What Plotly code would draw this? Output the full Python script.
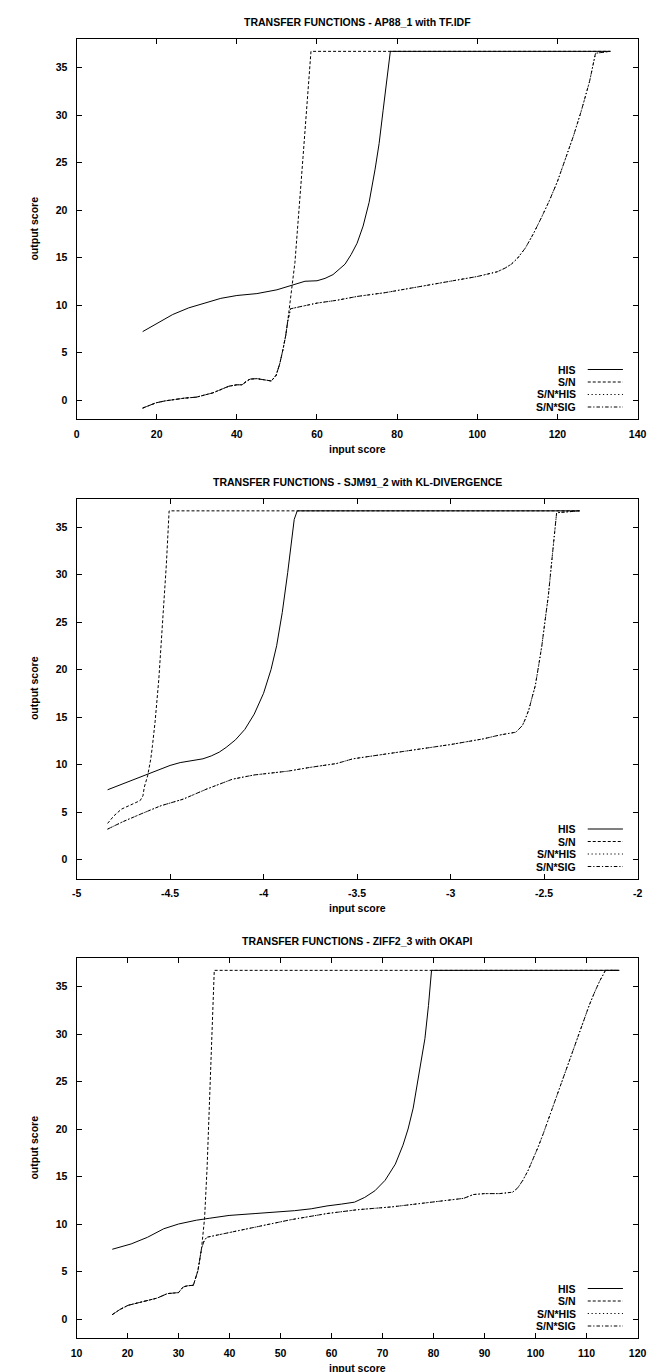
import plotly.graph_objects as go

W, H = 664, 1372

# ---------------- text ----------------
TITLES = [
    "TRANSFER FUNCTIONS - AP88_1 with TF.IDF",
    "TRANSFER FUNCTIONS - SJM91_2 with KL-DIVERGENCE",
    "TRANSFER FUNCTIONS - ZIFF2_3 with OKAPI",
]
SERIES = ["HIS", "S/N", "S/N*HIS", "S/N*SIG"]
X_LABEL = "input score"
Y_LABEL = "output score"

# ---------------- ticks ----------------
Y_TICKS = [0, 5, 10, 15, 20, 25, 30, 35]
Y_TICKTEXT = ["0", "5", "10", "15", "20", "25", "30", "35"]
Y_RANGE = [-2, 38]

P1_X_TICKS = [0, 20, 40, 60, 80, 100, 120, 140]
P1_X_TICKTEXT = ["0", "20", "40", "60", "80", "100", "120", "140"]
P1_X_RANGE = [0, 140]

P2_X_TICKS = [-5, -4.5, -4, -3.5, -3, -2.5, -2]
P2_X_TICKTEXT = ["-5", "-4.5", "-4", "-3.5", "-3", "-2.5", "-2"]
P2_X_RANGE = [-5, -2]

P3_X_TICKS = [10, 20, 30, 40, 50, 60, 70, 80, 90, 100, 110, 120]
P3_X_TICKTEXT = ["10", "20", "30", "40", "50", "60", "70", "80", "90", "100", "110", "120"]
P3_X_RANGE = [10, 120]

# ---------------- panel 1 data (AP88_1, TF.IDF) ----------------
P1_HIS_X = [16.5, 20, 24, 28, 32, 36, 40, 45, 50, 53, 55, 57, 60, 62, 64, 65.5, 67, 68.5, 70, 71.5, 73, 74.5,
            75.5, 76.5, 77.5, 78.3, 133.2]
P1_HIS_Y = [7.2, 8.0, 9.0, 9.7, 10.2, 10.7, 11.0, 11.2, 11.6, 12.0, 12.3, 12.5, 12.55, 12.8, 13.2, 13.7, 14.3, 15.3,
            16.5, 18.3, 20.8, 24.3, 27.0, 30.5, 33.8, 36.7, 36.7]

P1_SN_X = [16.5, 18, 19.8, 22, 24.2, 27, 29.9, 32, 34, 36, 38, 40, 41.3, 42.5, 43.3, 45, 47, 48.6, 49.8, 50.7,
           51.5, 52.2, 52.7, 53.5, 54.5, 56.5, 58.5, 133.2]
P1_SN_Y = [-0.85, -0.6, -0.3, -0.1, 0.05, 0.2, 0.3, 0.5, 0.75, 1.1, 1.45, 1.6, 1.6, 2.0, 2.2, 2.25, 2.15, 2.0, 2.6, 3.8,
           5.3, 6.8, 8.3, 10.8, 14.5, 25.5, 36.7, 36.7]

P1_SNSIG_X = [16.5, 18, 19.8, 22, 24.2, 27, 29.9, 32, 34, 36, 38, 40, 41.3, 42.5, 43.3, 45, 47, 48.6, 49.8, 50.7,
              51.5, 52.2, 52.7, 53.4, 55, 60, 65, 70, 77, 85, 93.3, 100, 105, 107, 108.5, 110, 112, 114, 116,
              118, 120, 122, 124, 126, 128, 129.5, 133.2]
P1_SNSIG_Y = [-0.85, -0.6, -0.3, -0.1, 0.05, 0.2, 0.3, 0.5, 0.75, 1.1, 1.45, 1.6, 1.6, 2.0, 2.2, 2.25, 2.15, 2.0, 2.6, 3.8,
              5.3, 6.8, 8.3, 9.6, 9.75, 10.2, 10.5, 10.9, 11.3, 11.9, 12.5, 13.0, 13.5, 13.9, 14.3, 14.9, 16.0, 17.5,
              19.2, 21.0, 23.0, 25.3, 27.8, 30.5, 33.5, 36.5, 36.7]
P1_SNHIS_X = list(P1_SNSIG_X)
P1_SNHIS_Y = list(P1_SNSIG_Y)

# ---------------- panel 2 data (SJM91_2, KL-DIVERGENCE) ----------------
P2_HIS_X = [-4.834, -4.75, -4.65, -4.603, -4.55, -4.5, -4.446, -4.38, -4.324, -4.28, -4.237, -4.2, -4.15, -4.1,
            -4.05, -4.0, -3.96, -3.93, -3.9, -3.871, -3.85, -3.836, -3.82, -2.31]
P2_HIS_Y = [7.34, 8.0, 8.75, 9.1, 9.55, 9.9, 10.2, 10.45, 10.6, 10.9, 11.3, 11.8, 12.6, 13.7,
            15.3, 17.5, 20.0, 22.5, 26.0, 30.2, 33.5, 35.8, 36.7, 36.7]

P2_SN_X = [-4.834, -4.8, -4.76, -4.707, -4.66, -4.645, -4.638, -4.62, -4.603, -4.594, -4.58, -4.56, -4.54, -4.52,
           -4.505, -2.31]
P2_SN_Y = [3.8, 4.6, 5.3, 5.8, 6.2, 6.7, 7.6, 8.8, 10.6, 12.0, 14.5, 19.0, 25.0, 31.0, 36.7, 36.7]

P2_SNSIG_X = [-4.834, -4.75, -4.655, -4.55, -4.43, -4.306, -4.167, -4.05, -3.96, -3.87, -3.75, -3.61, -3.522, -3.35,
              -3.174, -3.0, -2.825, -2.738, -2.651, -2.616, -2.6, -2.581, -2.565, -2.547, -2.53, -2.512, -2.495,
              -2.477, -2.464, -2.451, -2.44, -2.433, -2.31]
P2_SNSIG_Y = [3.2, 4.0, 4.8, 5.65, 6.35, 7.4, 8.45, 8.9, 9.1, 9.3, 9.7, 10.1, 10.6, 11.1,
              11.6, 12.1, 12.7, 13.1, 13.4, 14.1, 14.8, 15.8, 17.0, 18.3, 20.3, 22.5, 25.1,
              27.8, 30.4, 33.0, 35.3, 36.5, 36.7]
P2_SNHIS_X = list(P2_SNSIG_X)
P2_SNHIS_Y = list(P2_SNSIG_Y)

# ---------------- panel 3 data (ZIFF2_3, OKAPI) ----------------
P3_HIS_X = [17, 20.7, 23.9, 27.1, 30, 33.5, 36, 39.9, 45, 49.5, 52.7, 56, 59.1, 62, 64.5, 66.5, 68.5, 70.5,
            72.5, 74, 75, 76, 76.7, 77.5, 78.3, 79, 79.6, 116.4]
P3_HIS_Y = [7.34, 7.9, 8.6, 9.5, 10.0, 10.4, 10.6, 10.9, 11.1, 11.25, 11.4, 11.6, 11.9, 12.1, 12.3, 12.8, 13.5, 14.6,
            16.3, 18.3, 20.0, 22.2, 24.5, 27.0, 29.5, 33.0, 36.7, 36.7]

P3_SN_X = [17, 18.5, 20.1, 22.6, 25.8, 27.8, 29.3, 30, 30.9, 31.8, 32.9, 33.3, 33.8, 34.5, 35.1, 35.6, 36.1, 36.6,
           37.0, 116.4]
P3_SN_Y = [0.46, 1.0, 1.44, 1.8, 2.2, 2.67, 2.72, 2.78, 3.37, 3.5, 3.55, 4.2, 5.1, 7.4, 10.6, 16.0, 23.0, 30.0,
           36.7, 36.7]

P3_SNSIG_X = [17, 18.5, 20.1, 22.6, 25.8, 27.8, 29.3, 30, 30.9, 31.8, 32.9, 33.3, 33.8, 34.5, 35.0, 35.5,
              40, 46.3, 52, 59.1, 65, 71.8, 78, 82, 85.9, 87.8, 90, 93, 95.5, 96.5, 97.5, 98.5, 99.5, 100.5,
              101.5, 102.5, 103.5, 104.5, 105.5, 106.5, 107.5, 108.5, 109.5, 110.5, 111.5, 112.5, 113.7, 116.4]
P3_SNSIG_Y = [0.46, 1.0, 1.44, 1.8, 2.2, 2.67, 2.72, 2.78, 3.37, 3.5, 3.55, 4.2, 5.1, 7.4, 8.2, 8.6,
              9.1, 9.85, 10.45, 11.1, 11.5, 11.8, 12.2, 12.45, 12.7, 13.1, 13.2, 13.2, 13.35, 13.8, 14.6, 15.6, 16.8,
              18.1, 19.5, 21.0, 22.5, 24.0, 25.6, 27.1, 28.6, 30.1, 31.6, 33.0, 34.3, 35.5, 36.7, 36.7]
P3_SNHIS_X = list(P3_SNSIG_X)
P3_SNHIS_Y = list(P3_SNSIG_Y)

PANELS = [
    dict(title=TITLES[0], xr=P1_X_RANGE, xt=P1_X_TICKS, xtt=P1_X_TICKTEXT,
         data=[(P1_HIS_X, P1_HIS_Y), (P1_SN_X, P1_SN_Y), (P1_SNHIS_X, P1_SNHIS_Y), (P1_SNSIG_X, P1_SNSIG_Y)]),
    dict(title=TITLES[1], xr=P2_X_RANGE, xt=P2_X_TICKS, xtt=P2_X_TICKTEXT,
         data=[(P2_HIS_X, P2_HIS_Y), (P2_SN_X, P2_SN_Y), (P2_SNHIS_X, P2_SNHIS_Y), (P2_SNSIG_X, P2_SNSIG_Y)]),
    dict(title=TITLES[2], xr=P3_X_RANGE, xt=P3_X_TICKS, xtt=P3_X_TICKTEXT,
         data=[(P3_HIS_X, P3_HIS_Y), (P3_SN_X, P3_SN_Y), (P3_SNHIS_X, P3_SNHIS_Y), (P3_SNSIG_X, P3_SNSIG_Y)]),
]

# ---------------- styles ----------------
FONT = "Liberation Sans, Arial, Helvetica, sans-serif"
DASHES = ["solid", "3px,2px", "1.2px,2.6px", "3.5px,2px,1.2px,2px"]
LEFT, RIGHT = 64, 638
TOP0, PITCH, PH = 31, 459.5, 380

fig = go.Figure()
annotations = []
shapes = []
layout_axes = {}


def px_x(p):
    return p / W


def px_y(p):
    return 1 - p / H


for i, pan in enumerate(PANELS):
    n = i + 1
    xa = "x" if n == 1 else f"x{n}"
    ya = "y" if n == 1 else f"y{n}"
    top = TOP0 + PITCH * i
    bottom = top + PH
    for k, (xs, ys) in enumerate(pan["data"]):
        fig.add_trace(go.Scatter(
            x=xs, y=ys, mode="lines", name=SERIES[k], showlegend=False,
            line=dict(color="black", width=1, dash=DASHES[k]),
            xaxis=xa, yaxis=ya, hoverinfo="skip",
        ))
    common = dict(showline=True, mirror="ticks", linecolor="black", linewidth=1,
                  ticks="inside", ticklen=5, tickwidth=1, tickcolor="black",
                  showgrid=False, zeroline=False,
                  tickfont=dict(family=FONT, size=10.5, color="black", weight="bold"))
    layout_axes["xaxis" if n == 1 else f"xaxis{n}"] = dict(
        common, domain=[px_x(LEFT), px_x(RIGHT)], range=pan["xr"],
        tickmode="array", tickvals=pan["xt"], ticktext=pan["xtt"],
        anchor=ya, ticklabelstandoff=5)
    layout_axes["yaxis" if n == 1 else f"yaxis{n}"] = dict(
        common, domain=[px_y(bottom), px_y(top)], range=Y_RANGE,
        tickmode="array", tickvals=Y_TICKS, ticktext=Y_TICKTEXT,
        anchor=xa, ticklabelstandoff=6)

    annotations.append(dict(text=pan["title"], x=px_x((LEFT + RIGHT) / 2), y=px_y(top - 17),
                            xref="paper", yref="paper", showarrow=False, xanchor="center", yanchor="middle",
                            font=dict(family=FONT, size=10.5, color="black", weight="bold")))
    annotations.append(dict(text=X_LABEL, x=px_x((LEFT + RIGHT) / 2), y=px_y(bottom + 30),
                            xref="paper", yref="paper", showarrow=False, xanchor="center", yanchor="middle",
                            font=dict(family=FONT, size=10.5, color="black", weight="bold")))
    annotations.append(dict(text=Y_LABEL, x=px_x(20), y=px_y((top + bottom) / 2), textangle=-90,
                            xref="paper", yref="paper", showarrow=False, xanchor="center", yanchor="middle",
                            font=dict(family=FONT, size=10.5, color="black", weight="bold")))
    for k, name in enumerate(SERIES):
        yk = bottom - 12 - 12.5 * (3 - k)
        annotations.append(dict(text=name, x=px_x(577), y=px_y(yk), xref="paper", yref="paper",
                                showarrow=False, xanchor="right", yanchor="middle",
                                font=dict(family=FONT, size=10.5, color="black", weight="bold")))
        shapes.append(dict(type="line", xref="paper", yref="paper",
                           x0=px_x(587), x1=px_x(623), y0=px_y(yk), y1=px_y(yk),
                           line=dict(color="black", width=1, dash=DASHES[k])))

fig.update_layout(
    width=W, height=H, margin=dict(l=0, r=0, t=0, b=0),
    paper_bgcolor="white", plot_bgcolor="white",
    showlegend=False, annotations=annotations, shapes=shapes,
    **layout_axes,
)

fig.write_html("out.html")
